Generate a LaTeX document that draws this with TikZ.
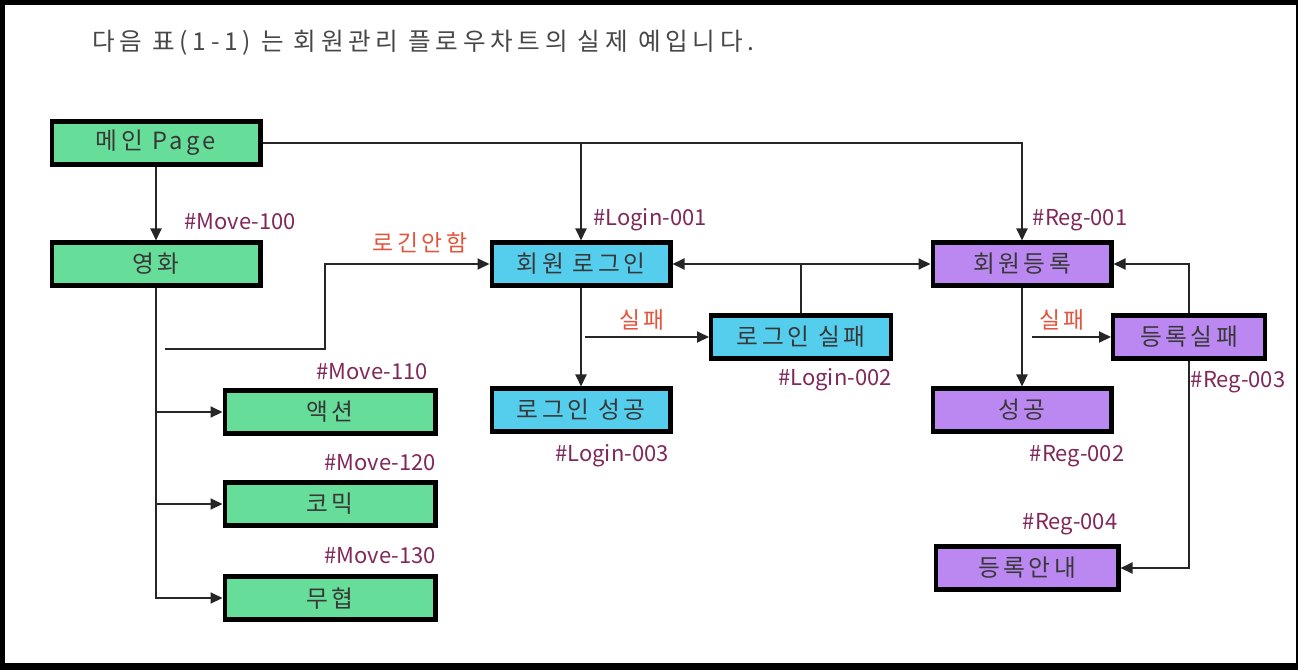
\documentclass[tikz,border=0pt]{standalone}
\usepackage{fontspec}
\setmainfont{Noto Sans CJK KR}
\newfontfamily\wide[LetterSpace=15]{Noto Sans CJK KR}
\newfontfamily\titlefont[LetterSpace=19]{Noto Sans CJK KR}
\usetikzlibrary{arrows.meta}
\definecolor{boxgreen}{RGB}{102,221,153}
\definecolor{boxblue}{RGB}{85,206,238}
\definecolor{boxpurple}{RGB}{186,136,240}
\definecolor{tagcol}{RGB}{128,40,90}
\definecolor{failred}{RGB}{226,84,60}
\begin{document}
\begin{tikzpicture}[x=0.02cm,y=-0.02cm,
  every node/.style={inner sep=0pt},
  blk/.style={draw,line width=2.3pt,minimum height=0.86cm,font=\wide\fontsize{13.5}{15}\selectfont,text=black!78},
  gbox/.style={blk,fill=boxgreen},
  bbox/.style={blk,fill=boxblue},
  pbox/.style={blk,fill=boxpurple},
  tag/.style={font=\fontsize{12.5}{14}\selectfont,text=tagcol},
  fail/.style={font=\wide\fontsize{13}{15}\selectfont,text=failred},
  line/.style={line width=1.1pt,black!85},
  arr/.style={line,-{Triangle[length=0.24cm,width=0.22cm]}}]
\fill[black] (0,0) rectangle (1298,670);
\fill[white] (5,5) rectangle (1296,663);
\useasboundingbox (0,0) rectangle (1298,670);
% title
\node[anchor=west,font=\titlefont\fontsize{14}{16}\selectfont,text=black!72] (ttl) at (92,43) {다음 표(1-1) 는 회원관리 플로우차트의 실제 예입니다.};
% movie part
\node[gbox,minimum width=4.18cm] (m0) at (156,143) {메인 Page};
\node[gbox,minimum width=4.18cm] (m1) at (156,264) {영화};
\node[gbox,minimum width=4.22cm] (m2) at (330,412) {액션};
\node[gbox,minimum width=4.22cm] (m3) at (330,504) {코믹};
\node[gbox,minimum width=4.22cm] (m4) at (330,598) {무협};
% login part
\node[bbox,minimum width=3.58cm] (l0) at (581,264) {회원 로그인};
\node[bbox,minimum width=3.6cm] (l1) at (801,337) {로그인 실패};
\node[bbox,minimum width=3.58cm] (l2) at (581,410) {로그인 성공};
% register part
\node[pbox,minimum width=3.58cm] (r0) at (1022,264) {회원등록};
\node[pbox,minimum width=3.04cm] (r1) at (1189,337) {등록실패};
\node[pbox,minimum width=3.58cm] (r2) at (1022,410) {성공};
\node[pbox,minimum width=3.66cm] (r3) at (1027,568) {등록안내};
% ids
\node[tag] (t0) at (240,222) {\#Move-100};
\node[tag] (t1) at (372,372) {\#Move-110};
\node[tag] (t2) at (380,463) {\#Move-120};
\node[tag] (t3) at (380,556) {\#Move-130};
\node[tag] (t4) at (650,220) {\#Login-001};
\node[tag] (t5) at (835,380) {\#Login-002};
\node[tag] (t6) at (612,456) {\#Login-003};
\node[tag] (t7) at (1080,220) {\#Reg-001};
\node[tag] (t8) at (1077,456) {\#Reg-002};
\node[tag] (t9) at (1238,382) {\#Reg-003};
\node[tag] (t10) at (1070,524) {\#Reg-004};
% connectors
\draw[arr] (m0.east) -| (r0.north);
\draw[arr] (l0.north |- m0.east) -- (l0.north);
\draw[arr] (m0.south) -- (m1.north);
\draw[arr] (m1.south) |- (m4.west);
\draw[arr] (m1.south |- m2.west) -- (m2.west);
\draw[arr] (m1.south |- m3.west) -- (m3.west);
\coordinate (s0) at (165,349);
\coordinate (s1) at (325,300);
\draw[arr] (s0) -| (s1) |- (l0.west);
\node[fail] (f0) at (420,243) {로긴안함};
\draw[arr] (l0.south) -- (l2.north);
\draw[arr] ([xshift=0.08cm]l0.south |- l1.west) -- (l1.west);
\node[fail] (f1) at (642,320) {실패};
\draw[{Triangle[length=0.24cm,width=0.22cm]}-{Triangle[length=0.24cm,width=0.22cm]},line] (l0.east) -- (r0.west);
\draw[line] (l1.north) -- (l1.north |- l0.east);
\draw[arr] (r0.south) -- (r2.north);
\draw[arr] ([xshift=0.2cm]r0.south |- r1.west) -- (r1.west);
\node[fail] (f2) at (1062,320) {실패};
\draw[arr] (r1.north) |- (r0.east);
\draw[arr] (r1.south) |- (r3.east);
\end{tikzpicture}
\end{document}
